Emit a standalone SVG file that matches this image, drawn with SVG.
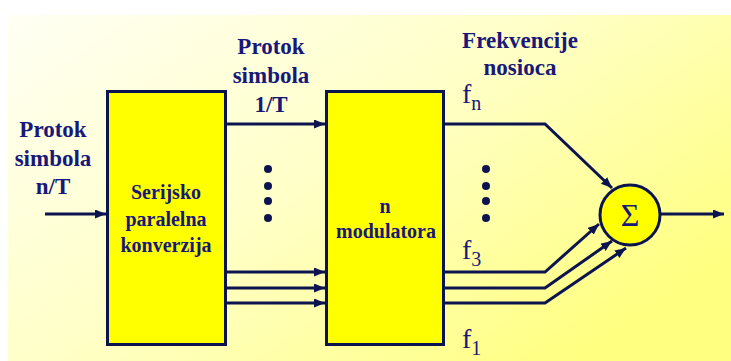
<svg xmlns="http://www.w3.org/2000/svg" width="731" height="361" viewBox="0 0 731 361">
<defs>
<linearGradient id="bg" x1="0" y1="0" x2="1" y2="0.7">
<stop offset="0" stop-color="#fffff4"/>
<stop offset="0.5" stop-color="#ffffc8"/>
<stop offset="1" stop-color="#ffff80"/>
</linearGradient>
<marker id="ah" markerUnits="userSpaceOnUse" markerWidth="12" markerHeight="10" refX="11" refY="4.5" orient="auto">
<path d="M0,0 L11,4.5 L0,9 z" fill="#0c1450"/>
</marker>
<style>
.box{fill:#ffff00;stroke:#0c1450;stroke-width:3}
.lbl{font-family:"Liberation Serif","Times New Roman",serif;font-weight:bold;fill:#18187a;text-anchor:middle}
.big{font-size:23px}
.in{font-size:20px}
.f{font-family:"Liberation Serif","Times New Roman",serif;fill:#18187a;font-size:28px}
.sub{font-size:20px}
.ln{fill:none;stroke:#0c1450;stroke-width:3}
.dot{fill:#0c1450}
</style>
</defs>
<rect x="0" y="0" width="731" height="361" fill="#ffffff"/>
<rect x="8" y="15" width="723" height="346" fill="url(#bg)"/>

<g id="label-input">
<text class="lbl big" x="53" y="137">Protok</text>
<text class="lbl big" x="53" y="166">simbola</text>
<text class="lbl big" x="53" y="194">n/T</text>
</g>
<g id="label-parallel">
<text class="lbl big" x="271" y="54">Protok</text>
<text class="lbl big" x="271" y="83">simbola</text>
<text class="lbl big" x="271" y="112">1/T</text>
</g>
<g id="label-carriers">
<text class="lbl big" x="520" y="48">Frekvencije</text>
<text class="lbl big" x="520" y="75">nosioca</text>
</g>

<g id="node-sp">
<rect class="box" x="107.5" y="91.5" width="118" height="253"/>
<text class="lbl in" x="166" y="199">Serijsko</text>
<text class="lbl in" x="166" y="226">paralelna</text>
<text class="lbl in" x="166" y="252">konverzija</text>
</g>
<g id="node-mod">
<rect class="box" x="326.5" y="91.5" width="117" height="253"/>
<text class="lbl in" x="385" y="213">n</text>
<text class="lbl in" x="386" y="238">modulatora</text>
</g>
<g id="node-sum">
<circle cx="630" cy="215" r="30" fill="#ffff00" stroke="#0c1450" stroke-width="3"/>
<text x="630" y="226" font-family="'Liberation Serif','Times New Roman',serif" font-size="32" fill="#18187a" text-anchor="middle">Σ</text>
</g>

<g id="freq-labels">
<text class="f" x="462" y="103">f<tspan class="sub" dy="7">n</tspan></text>
<text class="f" x="462" y="259">f<tspan class="sub" dy="7">3</tspan></text>
<text class="f" x="462" y="348">f<tspan class="sub" dy="7">1</tspan></text>
</g>

<g id="dots">
<circle class="dot" cx="268" cy="169" r="4"/>
<circle class="dot" cx="268" cy="186" r="4"/>
<circle class="dot" cx="268" cy="201" r="4"/>
<circle class="dot" cx="268" cy="218" r="4"/>
<circle class="dot" cx="486" cy="169" r="4"/>
<circle class="dot" cx="486" cy="186" r="4"/>
<circle class="dot" cx="486" cy="201" r="4"/>
<circle class="dot" cx="486" cy="218" r="4"/>
</g>

<g id="connectors">
<line class="ln" x1="45" y1="214" x2="106" y2="214" marker-end="url(#ah)"/>
<line class="ln" x1="226" y1="124" x2="325" y2="124" marker-end="url(#ah)"/>
<line class="ln" x1="226" y1="272" x2="325" y2="272" marker-end="url(#ah)"/>
<line class="ln" x1="226" y1="288" x2="325" y2="288" marker-end="url(#ah)"/>
<line class="ln" x1="226" y1="303" x2="325" y2="303" marker-end="url(#ah)"/>
<polyline class="ln" points="444,124 545,124 612,188" marker-end="url(#ah)"/>
<polyline class="ln" points="444,272 545,272 599,224" marker-end="url(#ah)"/>
<polyline class="ln" points="444,288 545,288 612,241" marker-end="url(#ah)"/>
<polyline class="ln" points="444,303 545,303 626,248" marker-end="url(#ah)"/>
<line class="ln" x1="661" y1="214" x2="724" y2="214" marker-end="url(#ah)"/>
</g>
</svg>
